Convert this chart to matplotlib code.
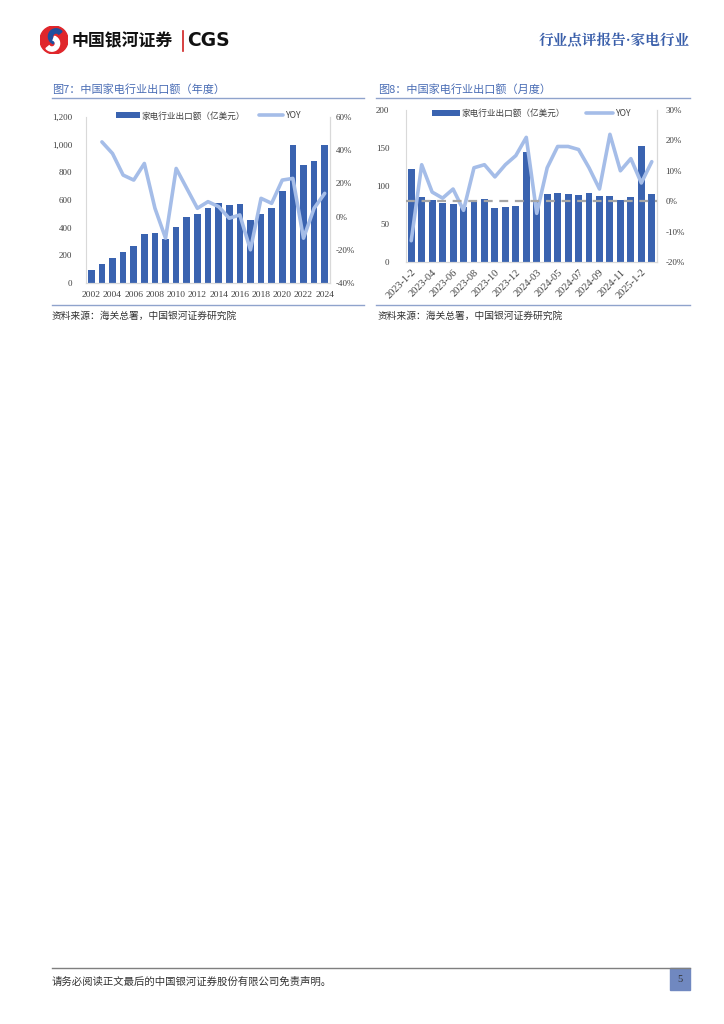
import matplotlib
matplotlib.use("Agg")
import matplotlib.pyplot as plt
from matplotlib.patches import Rectangle, Circle, Wedge
from matplotlib.lines import Line2D
from matplotlib.ticker import FuncFormatter

plt.rcParams['font.family'] = ['Noto Sans CJK SC', 'DejaVu Sans']

# ---------------- data ----------------
years = [str(y) for y in range(2002, 2025)]
annual_export = [95, 135, 180, 225, 270, 355, 365, 320, 405, 480, 500, 545,
                 575, 565, 570, 455, 500, 540, 665, 995, 855, 880, 1000]
annual_yoy = [None, 45, 38, 25, 22, 32, 5, -13, 29, 17, 5, 9,
              6, -1, 1, -20, 11, 8, 22, 23, -13, 5, 14]

months = ['2023-1-2', '2023-03', '2023-04', '2023-05', '2023-06', '2023-07',
          '2023-08', '2023-09', '2023-10', '2023-11', '2023-12',
          '2024-1-2', '2024-03', '2024-04', '2024-05', '2024-06', '2024-07',
          '2024-08', '2024-09', '2024-10', '2024-11', '2024-12',
          '2025-1-2', '2025-03']
monthly_export = [123, 85, 82, 78, 76, 73, 82, 83, 71, 73, 74, 145,
                  80, 90, 91, 89, 88, 91, 87, 87, 81, 85, 153, 90]
monthly_yoy = [-13, 12, 3, 1, 4, -3, 11, 12, 8, 12, 15, 21,
               -4, 11, 18, 18, 17, 11, 4, 22, 10, 14, 6, 13]

annual_left_ticks = [0, 200, 400, 600, 800, 1000, 1200]
annual_right_ticks = [-40, -20, 0, 20, 40, 60]
monthly_left_ticks = [0, 50, 100, 150, 200]
monthly_right_ticks = [-20, -10, 0, 10, 20, 30]

BAR = '#3A63B0'
LINE = '#A5BDE8'
TITLE_BLUE = '#4A6DB5'
RULE = '#8FA3CC'
TICK_C = '#404040'
NUMFONT = 'Liberation Serif'

W, H = 724, 1024
fig = plt.figure(figsize=(W / 100, H / 100), dpi=100)


def fx(x):
    return x / W


def fy(y):
    return 1 - y / H


# ---------------- header ----------------
logo = fig.add_axes([fx(40), fy(54), fx(28), fx(28) * W / H])
logo.set_xlim(-1, 1)
logo.set_ylim(-1, 1)
logo.set_aspect('equal')
logo.axis('off')
logo.add_patch(Circle((0, 0), 1.0, color='#E0262B'))
logo.add_patch(Wedge((0.15, 0.25), 0.55, 40, 250, width=0.3, color='#1F4E9E'))
logo.add_patch(Wedge((-0.15, -0.25), 0.55, 220, 70, width=0.3, color='white'))

fig.text(fx(72), fy(41), '中国银河证券', fontsize=12.2, fontweight='bold',
         color='#111111', va='center', ha='left')
fig.add_artist(Line2D([fx(183), fx(183)], [fy(31), fy(51)], color='#D02020', lw=1.2))
fig.text(fx(187), fy(41), 'CGS', fontsize=13.5, fontweight='bold',
         color='#111111', va='center', ha='left', family=['DejaVu Sans'])
fig.text(fx(690), fy(41), '行业点评报告·家电行业', fontsize=10.5, fontweight='bold',
         color='#3A5FAA', va='center', ha='right',
         family=['Noto Serif CJK SC', 'Noto Sans CJK SC', 'DejaVu Sans'])

# ---------------- section titles / rules ----------------
fig.text(fx(52), fy(89), '图7：中国家电行业出口额（年度）', fontsize=8, color=TITLE_BLUE,
         va='center', ha='left')
fig.text(fx(378), fy(89), '图8：中国家电行业出口额（月度）', fontsize=8, color=TITLE_BLUE,
         va='center', ha='left')
for x0, x1 in [(52, 364), (376, 690)]:
    fig.add_artist(Line2D([fx(x0), fx(x1)], [fy(98), fy(98)], color=RULE, lw=1.0))
    fig.add_artist(Line2D([fx(x0), fx(x1)], [fy(305), fy(305)], color=RULE, lw=1.0))
fig.text(fx(52), fy(316), '资料来源：海关总署，中国银河证券研究院', fontsize=7,
         color='#333333', va='center', ha='left', style='italic')
fig.text(fx(378), fy(316), '资料来源：海关总署，中国银河证券研究院', fontsize=7,
         color='#333333', va='center', ha='left', style='italic')


def pct(v, _):
    return f'{int(round(v))}%'


def style_axes(ax, ax2, xsize=6.5):
    for a in (ax, ax2):
        a.spines['top'].set_visible(False)
        a.spines['left'].set_color('#D9D9D9')
        a.spines['right'].set_color('#D9D9D9')
        a.spines['bottom'].set_color('#D9D9D9')
        a.tick_params(length=0, colors=TICK_C, labelsize=6.5)
    ax.tick_params(axis='x', labelsize=xsize)
    ax2.spines['left'].set_visible(False)
    for lab in ax.get_yticklabels() + ax2.get_yticklabels() + ax.get_xticklabels():
        lab.set_fontfamily(NUMFONT)


# ---------------- chart 1 ----------------
ax1 = fig.add_axes([fx(86), fy(283), fx(330) - fx(86), fy(117) - fy(283)])
x1 = list(range(len(years)))
ax1.bar(x1, annual_export, width=0.62, color=BAR, zorder=2, label='家电行业出口额（亿美元）')
ax1.set_xlim(-0.5, len(years) - 0.5)
ax1.set_ylim(0, 1200)
ax1.set_yticks(annual_left_ticks)
ax1.yaxis.set_major_formatter(FuncFormatter(lambda v, _: f'{int(v):,}'))
ax1.set_xticks(x1[::2])
ax1.set_xticklabels(years[::2])
ax1.tick_params(axis='x', pad=6)
ax1.tick_params(axis='y', pad=10)
ax1b = ax1.twinx()
xs = [i for i, v in enumerate(annual_yoy) if v is not None]
ys = [v for v in annual_yoy if v is not None]
ax1b.plot(xs, ys, color=LINE, lw=2.6, solid_joinstyle='round', solid_capstyle='round',
          zorder=3, label='YOY')
ax1b.set_ylim(-40, 60)
ax1b.set_yticks(annual_right_ticks)
ax1b.yaxis.set_major_formatter(FuncFormatter(pct))
ax1b.tick_params(axis='y', pad=4)
style_axes(ax1, ax1b, 6.8)
h1, l1 = ax1.get_legend_handles_labels()
h2, l2 = ax1b.get_legend_handles_labels()
leg = ax1b.legend(h1 + h2, l1 + l2, loc='upper center', bbox_to_anchor=(0.5, 1.08),
                  ncol=2, frameon=False, fontsize=6.2, handlelength=2.8,
                  columnspacing=1.6, handletextpad=0.2)
for t in leg.get_texts():
    t.set_color(TICK_C)

# ---------------- chart 2 ----------------
ax2 = fig.add_axes([fx(406), fy(262), fx(657) - fx(406), fy(110) - fy(262)])
x2 = list(range(len(months)))
ax2.bar(x2, monthly_export, width=0.66, color=BAR, zorder=2, label='家电行业出口额（亿美元）')
ax2.set_xlim(-0.5, len(months) - 0.5)
ax2.set_ylim(0, 200)
ax2.set_yticks(monthly_left_ticks)
ax2.set_xticks(x2[::2])
ax2.set_xticklabels(months[::2], rotation=45, ha='right', rotation_mode='anchor')
ax2.tick_params(axis='x', pad=4)
ax2.tick_params(axis='y', pad=12)
ax2b = ax2.twinx()
ax2b.plot(x2, monthly_yoy, color=LINE, lw=2.6, solid_joinstyle='round', solid_capstyle='round',
          zorder=3, label='YOY')
ax2b.axhline(0, color='#A6A6A6', lw=1.6, ls=(0, (4, 3)), zorder=4)
ax2b.set_ylim(-20, 30)
ax2b.set_yticks(monthly_right_ticks)
ax2b.yaxis.set_major_formatter(FuncFormatter(pct))
ax2b.tick_params(axis='y', pad=6)
style_axes(ax2, ax2b, 7.5)
h1, l1 = ax2.get_legend_handles_labels()
h2, l2 = ax2b.get_legend_handles_labels()
leg = ax2b.legend(h1 + h2, l1 + l2, loc='upper center', bbox_to_anchor=(0.5, 1.06),
                  ncol=2, frameon=False, fontsize=6.2, handlelength=3.2,
                  columnspacing=2.4, handletextpad=0.2)
for t in leg.get_texts():
    t.set_color(TICK_C)

# ---------------- footer ----------------
fig.add_artist(Line2D([fx(52), fx(690)], [fy(968), fy(968)], color='#7F7F7F', lw=1.0))
fig.text(fx(52), fy(982), '请务必阅读正文最后的中国银河证券股份有限公司免责声明。', fontsize=7.5,
         color='#333333', va='center', ha='left')
fig.add_artist(Rectangle((fx(670), fy(990)), fx(20), fy(968) - fy(990), color='#7088C0',
                         transform=fig.transFigure))
fig.text(fx(680), fy(980), '5', fontsize=7.5, color='#333333', va='center', ha='center',
         family=[NUMFONT])

fig.savefig('out.png', dpi=100)
